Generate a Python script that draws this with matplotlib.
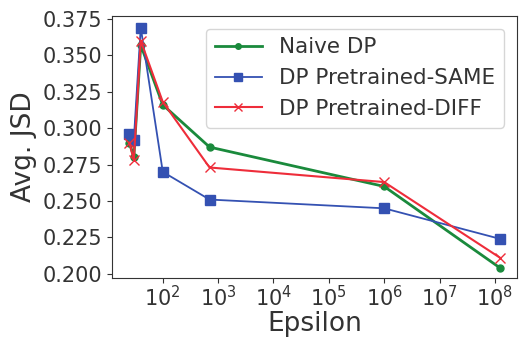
import numpy as np
import matplotlib
matplotlib.use("Agg")
import matplotlib.pyplot as plt

# epsilon values (log scale) and avg. JSD per method
epsilon = [25, 30, 40, 100, 700, 1e6, 1.25e8]
naive_dp = [0.290, 0.280, 0.357, 0.316, 0.287, 0.260, 0.204]
dp_same = [0.296, 0.292, 0.369, 0.270, 0.251, 0.245, 0.224]
dp_diff = [0.290, 0.278, 0.360, 0.318, 0.273, 0.263, 0.211]

plt.rcParams["text.color"] = "#333333"
plt.rcParams["axes.labelcolor"] = "#333333"
plt.rcParams["xtick.color"] = "#333333"
plt.rcParams["ytick.color"] = "#333333"
plt.rcParams["axes.edgecolor"] = "#333333"

fig, ax = plt.subplots(figsize=(5.2, 3.38), dpi=100)
fig.subplots_adjust(left=0.215, right=0.994, top=0.953, bottom=0.178)

ax.plot(epsilon, naive_dp, color="#1a8a3c", marker="o", markersize=5,
        linewidth=2, label="Naive DP")
ax.plot(epsilon, dp_same, color="#3451b2", marker="s", markersize=7,
        linewidth=1.3, label="DP Pretrained-SAME")
ax.plot(epsilon, dp_diff, color="#ee2d3a", marker="x", markersize=7,
        linewidth=1.5, label="DP Pretrained-DIFF")

ax.set_xscale("log")
ax.set_xticks([1e2, 1e3, 1e4, 1e5, 1e6, 1e7, 1e8])
ax.set_xlim(12, 2.5e8)
ax.set_ylim(0.1973, 0.377)
ax.set_yticks(np.arange(0.200, 0.3751, 0.025))
ax.yaxis.set_major_formatter(matplotlib.ticker.FormatStrFormatter("%.3f"))
ax.tick_params(labelsize=15)
ax.tick_params(axis="x", pad=2)
ax.set_xlabel("Epsilon", fontsize=19, labelpad=0)
ax.set_ylabel("Avg. JSD", fontsize=19)
ax.legend(fontsize=15.5, loc="upper right", handlelength=2.2,
          borderaxespad=0.6, markerscale=0.8)

plt.savefig("out.png")
